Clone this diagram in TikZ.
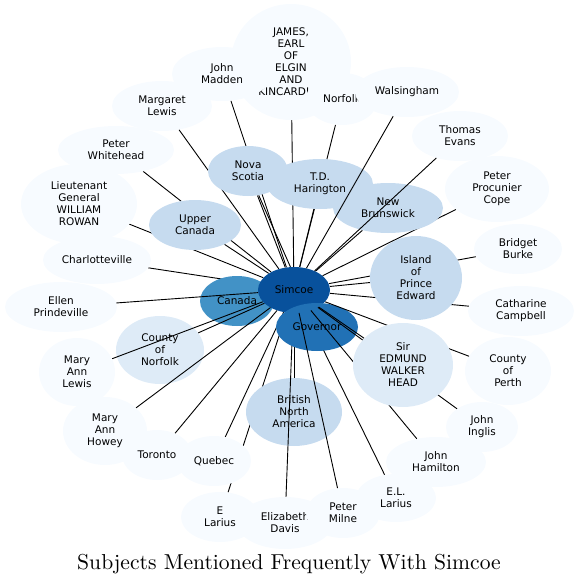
\documentclass[tikz,border=0pt]{standalone}
\usepackage{fontspec}
\usetikzlibrary{shapes.geometric}
\newfontfamily\nodefont{DejaVu Sans}
\newfontfamily\titlefont{lmroman10-regular.otf}
\definecolor{bA}{HTML}{F7FBFF}
\definecolor{bB}{HTML}{DEEBF7}
\definecolor{bC}{HTML}{C6DBEF}
\definecolor{bCan}{HTML}{4292C6}
\definecolor{bGov}{HTML}{2171B5}
\definecolor{bSim}{HTML}{08519C}
\pgfdeclarelayer{e0}
\pgfdeclarelayer{n1}
\pgfdeclarelayer{e1}
\pgfdeclarelayer{n2}
\pgfdeclarelayer{e2}
\pgfdeclarelayer{n3}
\pgfsetlayers{e0,n1,e1,n2,e2,n3,main}
\tikzset{
  nd/.style={ellipse, inner sep=0pt, align=center, text=black,
    font=\nodefont\fontsize{10.5}{12}\selectfont},
  sz/.style 2 args={minimum width=#1pt, minimum height=#2pt},
  ln/.style={draw=black, line width=0.9pt},
}
\begin{document}
\begin{tikzpicture}[x=1pt,y=-1pt]
\useasboundingbox (0,0) rectangle (579,584);
\begin{pgfonlayer}{n1}
\node[nd, fill=bA, sz={120}{116}] (james) at (291,62) {JAMES,\\EARL\\OF\\ELGIN\\AND\\KINCARDINE};
\node[nd, fill=bA, sz={100}{54}] (madden) at (222,74) {John\\Madden};
\node[nd, fill=bA, sz={72}{52}] (norfolk) at (342,99) {Norfolk};
\node[nd, fill=bA, sz={104}{50}] (wals) at (407,92) {Walsingham};
\node[nd, fill=bA, sz={100}{50}] (margaret) at (162,106) {Margaret\\Lewis};
\node[nd, fill=bA, sz={116}{48}] (whitehead) at (116,150) {Peter\\Whitehead};
\node[nd, fill=bA, sz={96}{50}] (evans) at (460,136) {Thomas\\Evans};
\node[nd, fill=bA, sz={116}{80}] (rowan) at (79,204) {Lieutenant\\General\\WILLIAM\\ROWAN};
\node[nd, fill=bA, sz={104}{66}] (cope) at (497,189) {Peter\\Procunier\\Cope};
\node[nd, fill=bC, sz={80}{50}] (nova) at (248,171) {Nova\\Scotia};
\node[nd, fill=bC, sz={106}{50}] (td) at (320,184) {T.D.\\Harington};
\node[nd, fill=bC, sz={110}{50}] (nb) at (388,208) {New\\Brunswick};
\node[nd, fill=bC, sz={92}{50}] (upper) at (195,225) {Upper\\Canada};
\node[nd, fill=bA, sz={88}{50}] (burke) at (518,249) {Bridget\\Burke};
\node[nd, fill=bA, sz={108}{48}] (charl) at (97,260) {Charlotteville};
\node[nd, fill=bC, sz={92}{84}] (ipe) at (416,278) {Island\\of\\Prince\\Edward};
\node[nd, fill=bA, sz={112}{50}] (ellen) at (61,307) {Ellen\\Prindeville};
\node[nd, fill=bA, sz={106}{50}] (cath) at (521,311) {Catharine\\Campbell};
\node[nd, fill=bCan, sz={74}{50}] (canada) at (237,301) {Canada};
\node[nd, fill=bSim, sz={72}{46}] (sim) at (294,290) {Simcoe};
\node[nd, fill=bB, sz={88}{68}] (cnorf) at (160,350) {County\\of\\Norfolk};
\node[nd, fill=bA, sz={86}{68}] (perth) at (508,371) {County\\of\\Perth};
\node[nd, fill=bA, sz={76}{68}] (malewis) at (77,372) {Mary\\Ann\\Lewis};
\node[nd, fill=bC, sz={96}{68}] (bna) at (294,412) {British\\North\\America};
\node[nd, fill=bA, sz={72}{50}] (inglis) at (482,427) {John\\Inglis};
\node[nd, fill=bA, sz={84}{68}] (howey) at (105,431) {Mary\\Ann\\Howey};
\node[nd, fill=bA, sz={70}{50}] (toronto) at (157,455) {Toronto};
\node[nd, fill=bA, sz={74}{50}] (quebec) at (214,461) {Quebec};
\node[nd, fill=bA, sz={100}{50}] (hamilton) at (436,462) {John\\Hamilton};
\node[nd, fill=bA, sz={80}{48}] (ellarius) at (396,498) {E.L.\\Larius};
\node[nd, fill=bA, sz={96}{52}] (davis) at (285,523) {Elizabeth\\Davis};
\node[nd, fill=bA, sz={74}{50}] (milne) at (343,513) {Peter\\Milne};
\node[nd, fill=bA, sz={78}{50}] (elarius) at (220,517) {E\\Larius};
\end{pgfonlayer}
\begin{pgfonlayer}{n2}
\node[nd, fill=bGov, sz={82}{48}] (gov) at (317,327) {Governor};
\end{pgfonlayer}
\begin{pgfonlayer}{n3}
\node[nd, fill=bB, sz={100}{84}] (head) at (403,365) {Sir\\EDMUND\\WALKER\\HEAD};
\end{pgfonlayer}
\begin{pgfonlayer}{e0}
\draw[ln] (james) -- (sim);
\draw[ln] (madden) -- (sim);
\draw[ln] (norfolk) -- (sim);
\draw[ln] (margaret) -- (sim);
\draw[ln] (whitehead) -- (sim);
\draw[ln] (rowan) -- (sim);
\draw[ln] (cope) -- (sim);
\draw[ln] (nova) -- (sim);
\draw[ln] (nova) -- (gov);
\draw[ln] (td) -- (sim);
\draw[ln] (nb) -- (sim);
\draw[ln] (upper) -- (sim);
\draw[ln] (burke) -- (sim);
\draw[ln] (charl) -- (sim);
\draw[ln] (ipe) -- (sim);
\draw[ln] (cath) -- (sim);
\draw[ln] (bna) -- (sim);
\draw[ln] (toronto) -- (sim);
\draw[ln] (quebec) -- (sim);
\draw[ln] (ellarius) -- (sim);
\draw[ln] (elarius) -- (sim);
\end{pgfonlayer}
\begin{pgfonlayer}{e1}
\draw[ln] (wals) -- (sim);
\draw[ln] (evans) -- (sim);
\draw[ln] (ellen) -- (sim);
\draw[ln] (malewis) -- (sim);
\draw[ln] (cnorf) -- (sim);
\draw[ln] (howey) -- (sim);
\draw[ln] (davis) -- (sim);
\end{pgfonlayer}
\begin{pgfonlayer}{e2}
\draw[ln] (milne) -- (sim);
\draw[ln] (hamilton) -- (sim);
\draw[ln] (inglis) -- (sim);
\draw[ln] (perth) -- (sim);
\draw[ln] (head) -- (sim);
\end{pgfonlayer}
\node[font=\titlefont\fontsize{21.6}{26}\selectfont, anchor=base, inner sep=0pt] (title) at (289,569) {Subjects Mentioned Frequently With Simcoe};
\end{tikzpicture}
\end{document}
